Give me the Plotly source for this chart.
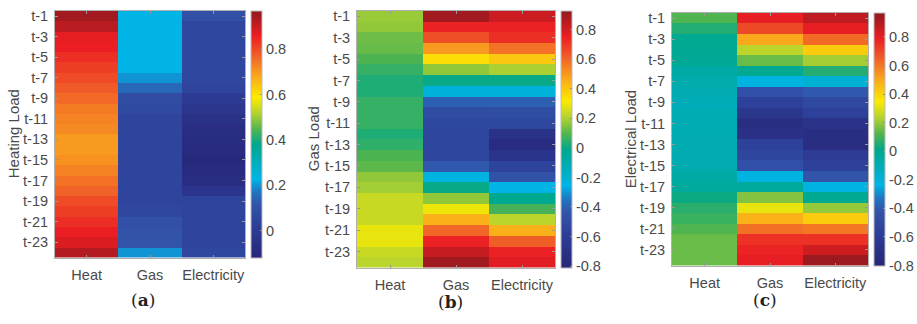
import plotly.graph_objects as go

rows = [f"t-{i}" for i in range(1, 25)]
row_ticks = [f"t-{i}" for i in range(1, 25, 2)]
columns = ["Heat", "Gas", "Electricity"]

# (a) Heating Load
heat_a = [0.95, 0.92, 0.87, 0.86, 0.84, 0.82, 0.80, 0.78, 0.76, 0.74, 0.73, 0.72,
          0.70, 0.70, 0.71, 0.73, 0.75, 0.77, 0.80, 0.82, 0.84, 0.86, 0.88, 0.93]
gas_a = [0.23, 0.23, 0.23, 0.23, 0.23, 0.23, 0.20, 0.15, 0.08, 0.07, 0.05, 0.05,
         0.05, 0.05, 0.05, 0.05, 0.05, 0.05, 0.05, 0.06, 0.10, 0.11, 0.12, 0.20]
elec_a = [0.10, 0.06, 0.06, 0.06, 0.06, 0.06, 0.06, 0.05, 0.00, -0.02, -0.05, -0.07,
          -0.08, -0.09, -0.10, -0.09, -0.07, -0.03, 0.04, 0.05, 0.05, 0.05, 0.05, 0.06]

# (b) Gas Load
heat_b = [0.18, 0.17, 0.13, 0.12, 0.09, 0.06, 0.03, 0.03, 0.06, 0.06, 0.06, 0.03,
          0.05, 0.09, 0.11, 0.17, 0.19, 0.24, 0.24, 0.24, 0.29, 0.29, 0.24, 0.22]
gas_b = [0.90, 0.75, 0.65, 0.50, 0.35, 0.17, 0.00, -0.22, -0.40, -0.50, -0.52, -0.53,
         -0.53, -0.53, -0.42, -0.24, 0.00, 0.17, 0.30, 0.45, 0.60, 0.75, 0.83, 0.90]
elec_b = [0.82, 0.75, 0.72, 0.58, 0.40, 0.20, 0.00, -0.22, -0.40, -0.48, -0.52, -0.70,
          -0.75, -0.68, -0.55, -0.45, -0.25, -0.02, 0.08, 0.22, 0.45, 0.62, 0.75, 0.78]

# (c) Electrical Load
heat_c = [0.12, 0.06, 0.00, 0.00, -0.01, -0.05, -0.07, -0.08, -0.10, -0.09, -0.09, -0.08,
          -0.08, -0.08, -0.08, -0.05, -0.03, 0.03, 0.07, 0.09, 0.12, 0.15, 0.15, 0.15]
gas_c = [0.80, 0.70, 0.50, 0.25, 0.15, 0.00, -0.22, -0.45, -0.55, -0.65, -0.72, -0.70,
         -0.55, -0.52, -0.45, -0.22, -0.03, 0.18, 0.32, 0.48, 0.62, 0.75, 0.78, 0.80]
elec_c = [0.88, 0.80, 0.63, 0.42, 0.22, 0.06, -0.18, -0.40, -0.50, -0.55, -0.68, -0.72,
          -0.72, -0.60, -0.55, -0.42, -0.22, 0.00, 0.20, 0.42, 0.60, 0.75, 0.85, 0.95]

ranges = [(-0.12, 0.97), (-0.81, 0.93), (-0.80, 0.97)]
cbar_ticks_a = [0, 0.2, 0.4, 0.6, 0.8]
cbar_ticks_bc = [-0.8, -0.6, -0.4, -0.2, 0, 0.2, 0.4, 0.6, 0.8]
y_titles = ["Heating Load", "Gas Load", "Electrical Load"]
panel_labels = ["(<b>a</b>)", "(<b>b</b>)", "(<b>c</b>)"]

colorscale = [
    [0.00, "rgb(38,38,120)"],
    [0.12, "rgb(45,60,150)"],
    [0.22, "rgb(50,85,170)"],
    [0.27, "rgb(30,120,195)"],
    [0.32, "rgb(0,180,230)"],
    [0.40, "rgb(0,172,180)"],
    [0.46, "rgb(0,168,140)"],
    [0.52, "rgb(80,180,80)"],
    [0.59, "rgb(185,212,45)"],
    [0.65, "rgb(252,235,0)"],
    [0.74, "rgb(250,165,30)"],
    [0.82, "rgb(240,95,40)"],
    [0.90, "rgb(235,30,35)"],
    [1.00, "rgb(145,25,30)"],
]

W, H = 917, 324
# pixel boxes: (x0, x1, y0, y1) heatmap, colorbar x0
boxes = [(55, 245, 8, 257, 251), (357, 555, 8, 267, 561), (672, 868, 10, 265, 874)]
label_pos = [(143, 300), (450, 302), (765, 300)]
ytitle_x = [13, 313, 630]

data_sets = [(heat_a, gas_a, elec_a), (heat_b, gas_b, elec_b), (heat_c, gas_c, elec_c)]

fig = go.Figure()
txt = "#4a4a4a"
font_family = "Liberation Sans, Arial, sans-serif"

for k, (h, g, e) in enumerate(data_sets):
    x0, x1, y0, y1, cbx = boxes[k]
    z = [[h[i], g[i], e[i]] for i in range(24)]
    tv = cbar_ticks_a if k == 0 else cbar_ticks_bc
    tt = [("%g" % v) for v in tv]
    fig.add_trace(go.Heatmap(
        z=z, x=columns, y=rows,
        xaxis=f"x{k+1}" if k else "x", yaxis=f"y{k+1}" if k else "y",
        colorscale=colorscale, zmin=ranges[k][0], zmax=ranges[k][1],
        colorbar=dict(
            x=cbx / W, xanchor="left", xpad=0, ypad=0,
            y=1 - y1 / H, yanchor="bottom", len=(y1 - y0) / H, lenmode="fraction",
            thickness=11, thicknessmode="pixels",
            outlinewidth=1, outlinecolor="#bbbbbb",
            tickvals=tv, ticktext=tt, ticks="inside", ticklen=2, tickcolor="#888",
            tickfont=dict(size=14.5, color=txt, family=font_family),
        ),
        showscale=True,
    ))
    sfx = str(k + 1) if k else ""
    fig.layout[f"xaxis{sfx}"] = dict(
        domain=[x0 / W, x1 / W], anchor=f"y{sfx}",
        type="category", categoryorder="array", categoryarray=columns,
        showline=True, mirror="ticks", linecolor="#b0b0b0", linewidth=1,
        ticks="inside", ticklen=3, tickcolor="#999",
        tickfont=dict(size=14.5, color=txt, family=font_family),
        ticklabelstandoff=4, showgrid=False, zeroline=False, fixedrange=True,
    )
    fig.layout[f"yaxis{sfx}"] = dict(
        domain=[1 - y1 / H, 1 - y0 / H], anchor=f"x{sfx}",
        type="category", categoryorder="array", categoryarray=rows,
        autorange="reversed", tickvals=row_ticks,
        showline=True, mirror="ticks", linecolor="#b0b0b0", linewidth=1,
        ticks="inside", ticklen=3, tickcolor="#999",
        tickfont=dict(size=14.5, color=txt, family=font_family),
        ticklabelstandoff=3, showgrid=False, zeroline=False, fixedrange=True,
    )
    fig.add_annotation(
        text=y_titles[k], x=ytitle_x[k] / W, y=1 - ((y0 + y1) / 2) / H,
        xref="paper", yref="paper", textangle=-90, showarrow=False,
        xanchor="center", yanchor="middle",
        font=dict(size=15, color=txt, family=font_family),
    )
    lx, ly = label_pos[k]
    fig.add_annotation(
        text=panel_labels[k], x=lx / W, y=1 - ly / H, xref="paper", yref="paper",
        showarrow=False, xanchor="center", yanchor="middle",
        font=dict(size=17, color="#222222", family="DejaVu Serif, Liberation Serif, serif"),
    )

fig.update_layout(
    width=W, height=H, margin=dict(l=0, r=0, t=0, b=0),
    paper_bgcolor="white", plot_bgcolor="white", showlegend=False,
)

fig.write_html("out.html", config={"displayModeBar": False})
